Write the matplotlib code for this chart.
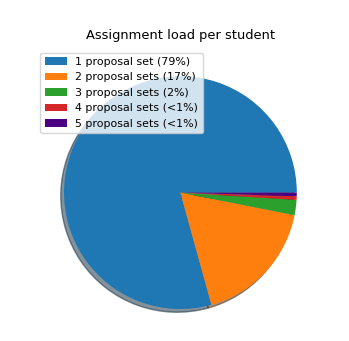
import matplotlib
matplotlib.use('Agg')
import matplotlib.pyplot as plt

labels = ['1 proposal set (79%)', '2 proposal sets (17%)', '3 proposal sets (2%)',
          '4 proposal sets (<1%)', '5 proposal sets (<1%)']
shares = [79.3, 17.6, 2.1, 0.5, 0.5]
colors = ['tab:blue', 'tab:orange', 'tab:green', 'tab:red', 'indigo']

fig = plt.figure(figsize=(3.49, 3.41), dpi=100)
# centre around (180, 192) px, radius ~116 px
ax = fig.add_axes([(180.5 - 145.6) / 349, (148.5 - 145.6) / 341, 291 / 349, 291 / 341])
wedges, _ = ax.pie(shares, colors=colors, shadow=True)
ax.set_title('Assignment load per student', fontsize=9.4)
ax.legend(wedges, labels, loc='upper left', fontsize=7.9)
fig.savefig('out.png', dpi=100)
